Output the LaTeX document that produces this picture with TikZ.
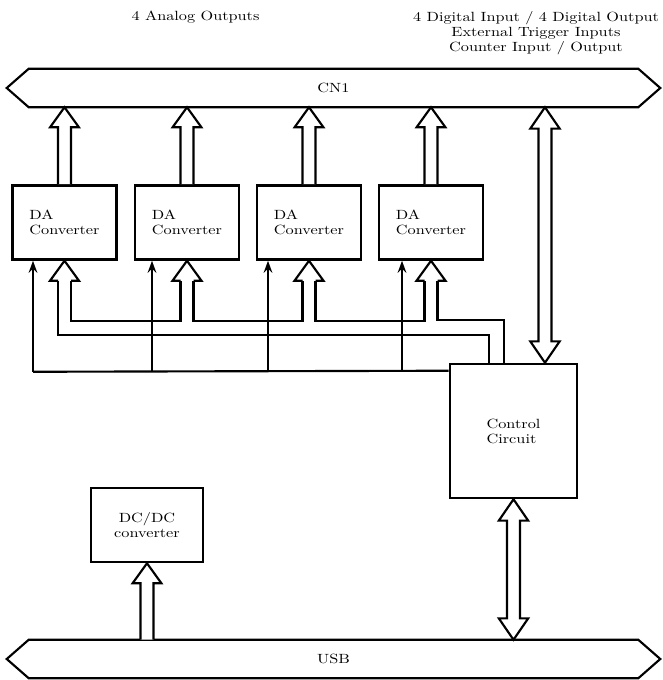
\documentclass[tikz,border=0pt]{standalone}
\usepackage{fontspec}
\setmainfont{lmroman10-regular.otf}[FakeStretch=1.22]
\usetikzlibrary{calc,arrows.meta}

% fleche creuse, queue #1, pointe #2 (verticale)
\newcommand{\fatarrow}[2]{%
  \draw[fat] let \p1=(#1), \p2=(#2), \n1={sign(\y2-\y1)} in
    (\x1-4.9pt,\y1) -- (\x1-4.9pt,\y2-\n1*15pt) -- (\x1-10.8pt,\y2-\n1*15pt) -- (\x1,\y2)
    -- (\x1+10.8pt,\y2-\n1*15pt) -- (\x1+4.9pt,\y2-\n1*15pt) -- (\x1+4.9pt,\y1) ;}
% fleche creuse double, pointes #1 et #2
\newcommand{\fatboth}[2]{%
  \draw[fat] let \p1=(#1), \p2=(#2), \n1={sign(\y2-\y1)} in
    (\x1,\y1) -- (\x1+11pt,\y1+\n1*16pt) -- (\x1+4.9pt,\y1+\n1*16pt) -- (\x1+4.9pt,\y2-\n1*16pt)
    -- (\x1+11pt,\y2-\n1*16pt) -- (\x1,\y2) -- (\x1-11pt,\y2-\n1*16pt) -- (\x1-4.9pt,\y2-\n1*16pt)
    -- (\x1-4.9pt,\y1+\n1*16pt) -- (\x1-11pt,\y1+\n1*16pt) -- cycle ;}

\begin{document}
\begin{tikzpicture}[x=0.75pt,y=-0.75pt,
  every node/.style={font=\fontsize{10}{11.25}\selectfont},
  box/.style={draw,line width=1.9pt,inner sep=0pt,align=left},
  bus/.style={inner sep=0pt,minimum width=489.75pt,minimum height=28.5pt},
  fat/.style={line width=1.6pt,fill=white,line join=miter},
  line/.style={line width=1.6pt},
  sig/.style={line width=1.6pt,-{Stealth[length=9pt,width=6.5pt,inset=3pt]}}]
\useasboundingbox (0,0) rectangle (662,680);

% les deux bus
\node[bus] (cn1) at (333.5,88) {CN1};
\node[bus] (usb) at (333.5,659) {USB};
\foreach \b in {cn1,usb}
  \draw[line] (\b.west) -- ([xshift=16.5pt]\b.north west) -- ([xshift=-16.5pt]\b.north east)
    -- (\b.east) -- ([xshift=-16.5pt]\b.south east) -- ([xshift=16.5pt]\b.south west) -- cycle;

% convertisseurs
\foreach \i/\x in {1/64.5,2/187,3/309,4/431}
  \node[box,minimum width=78pt,minimum height=55.5pt] (da\i) at (\x,222.5) {DA\\Converter};
\node[box,minimum width=95.25pt,minimum height=100.5pt] (ctrl) at (513.5,431) {Control\\Circuit};
\node[box,align=center,minimum width=84pt,minimum height=55.5pt] (dcdc) at (147,525) {DC/DC\\converter};

% textes du haut
\node (ao) at (195.5,17) {4 Analog Outputs};
\node[align=center] (dio) at (536,33) {4 Digital Input / 4 Digital Output\\External Trigger Inputs\\Counter Input / Output};

% sorties vers CN1
\foreach \i in {1,...,4}
  \fatarrow{da\i.north}{da\i.north |- cn1.south};
\fatboth{[xshift=23.6pt]ctrl.north |- cn1.south}{[xshift=23.6pt]ctrl.north};
\fatboth{ctrl.south}{ctrl.south |- usb.north};
\fatarrow{dcdc.south |- usb.north}{dcdc.south};

% bus de donnees vers les convertisseurs
\foreach \i in {1,...,4}
  \draw[line] ($(da\i.south)+(-6.5,20)$) -- ++(-8,0) -- (da\i.south) -- ++(14.5,20) -- ++(-8,0);
\draw[line] ($(da1.south)+(-6.5,20)$) |- ($(ctrl.north)+(-24.5,-28)$) -- ($(ctrl.north)+(-24.5,0)$);
\foreach \i/\j in {1/2,2/3,3/4}
  \draw[line] ($(da\i.south)+(6.5,20)$) |- ($(da\j.south)+(-6.5,60)$) -- ($(da\j.south)+(-6.5,20)$);
\draw[line] ($(da4.south)+(6.5,20)$) |- ($(ctrl.north)+(-9.5,-43)$) -- ($(ctrl.north)+(-9.5,0)$);

% signaux de commande
\draw[line] ($(da1.south)+(-31.5,111)$) -- ($(ctrl.north west)+(0,8)$);
\foreach \i/\d in {1/-31.5,2/-35,3/-41,4/-29}
  \draw[sig] ($(da\i.south)+(\d,111)$) -- ($(da\i.south)+(\d,0)$);
\end{tikzpicture}
\end{document}
